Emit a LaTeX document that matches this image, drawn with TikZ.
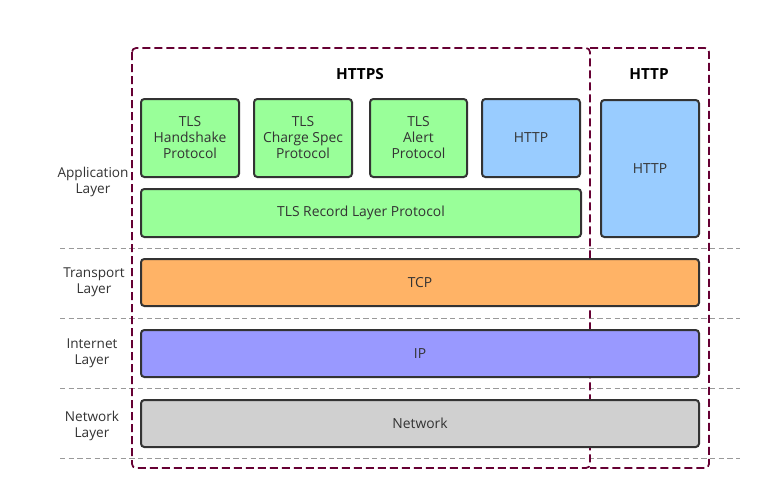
\documentclass[tikz,border=0pt]{standalone}
\usepackage{fontspec}
\setmainfont{Open Sans}
\definecolor{frame}{HTML}{660033}
\definecolor{txt}{HTML}{333333}
\definecolor{cgreen}{HTML}{99FF99}
\definecolor{cblue}{HTML}{99CCFF}
\definecolor{corange}{HTML}{FFB366}
\definecolor{cpurple}{HTML}{9999FF}
\definecolor{cgray}{HTML}{D0D0D0}
\tikzset{
  box/.style={draw=txt, line width=1.5pt, rounded corners=2.5pt, inner sep=0pt,
    align=center, text=txt, font=\fontsize{10.4pt}{12pt}\selectfont},
  group/.style={draw=frame, line width=1.3pt, dash pattern=on 6pt off 3pt, rounded corners=3pt},
  sep/.style={draw=gray!80, line width=0.6pt, dash pattern=on 4pt off 2.5pt},
  layer/.style={align=center, text=txt, font=\fontsize{10.2pt}{12pt}\selectfont},
  title/.style={font=\bfseries\fontsize{11.5pt}{13pt}\selectfont, text=black}
}
% \bx{name}{x1}{y1}{x2}{y2}{fill}{text}
\newcommand\bx[7]{%
  \pgfmathsetmacro\cx{(#2+#4)/2}\pgfmathsetmacro\cy{(#3+#5)/2}%
  \pgfmathsetmacro\ww{(#4-#2)*0.75}\pgfmathsetmacro\hh{(#5-#3)*0.75}%
  \node[box, fill=#6, minimum width=\ww pt, minimum height=\hh pt] (#1) at (\cx,\cy) {#7};}
\begin{document}
\begin{tikzpicture}[x=0.75pt,y=-0.75pt]
\useasboundingbox[fill=white] (0,0) rectangle (773,501);
% separators
\foreach \yy/\nm in {248/s1,318/s2,388/s3,458/s4}{
  \coordinate (\nm a) at (60,\yy); \coordinate (\nm b) at (740,\yy);
  \draw[sep] (\nm a) -- (\nm b);
}
% groups
\coordinate (g1) at (132,48); \coordinate (g2) at (590,468); \coordinate (g3) at (709,468);
\draw[group] (g1) rectangle (g2);
\draw[group] (590,48) -- (g3 |- g1) -- (g3) -- (g2);
\node[title] (httpsl) at (360,74) {HTTPS};
\node[title] (httpl) at (649,74) {HTTP};
% application boxes
\bx{hs}{141}{99}{239}{177}{cgreen}{TLS\\Handshake\\Protocol}
\bx{cs}{254}{99}{352}{177}{cgreen}{TLS\\Charge Spec\\Protocol}
\bx{al}{370}{99}{467}{177}{cgreen}{TLS\\Alert\\Protocol}
\bx{h1}{482}{99}{580}{177}{cblue}{HTTP}
\bx{rec}{141}{189}{581}{237}{cgreen}{TLS Record Layer Protocol}
\bx{h2}{601}{100}{699}{237}{cblue}{HTTP}
\bx{tcp}{141}{259}{699}{306}{corange}{TCP}
\bx{ip}{141}{330}{699}{377}{cpurple}{IP}
\bx{net}{141}{400}{699}{447}{cgray}{Network}
% layer labels
\node[layer] (la) at (93,182) {Application\\Layer};
\node[layer] (lt) at (94,282) {Transport\\Layer};
\node[layer] (li) at (92,353) {Internet\\Layer};
\node[layer] (ln) at (92,426) {Network\\Layer};
\end{tikzpicture}
\end{document}
